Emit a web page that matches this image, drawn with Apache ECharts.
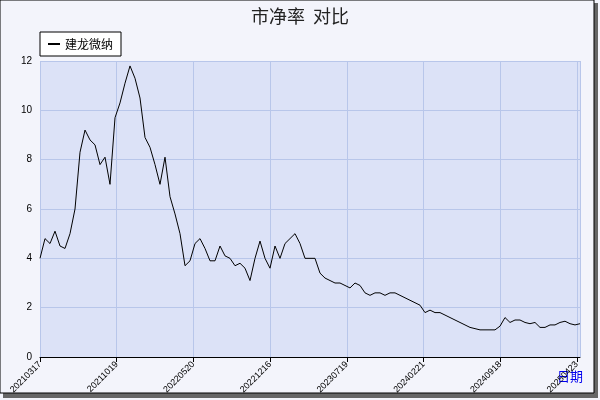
<!DOCTYPE html><html><head><meta charset="utf-8">
<script src="https://cdn.jsdelivr.net/npm/echarts@6/dist/echarts.min.js"></script>
<style>body{margin:0;background:#fff}#c{width:600px;height:400px}</style></head><body><div id="c"></div>
<script>
const tickLabels=['20210317','20211019','20220520','20221216','20230719','20240221','20240918','20250423'];
const values=[4.0,4.8,4.6,5.1,4.5,4.4,5.0,6.0,8.3,9.2,8.8,8.6,7.8,8.1,7.0,9.7,10.3,11.1,11.8,11.3,10.5,8.9,8.5,7.8,7.0,8.1,6.5,5.8,5.0,3.7,3.9,4.6,4.8,4.4,3.9,3.9,4.5,4.1,4.0,3.7,3.8,3.6,3.1,4.0,4.7,4.0,3.6,4.5,4.0,4.6,4.8,5.0,4.6,4.0,4.0,4.0,3.4,3.2,3.1,3.0,3.0,2.9,2.8,3.0,2.9,2.6,2.5,2.6,2.6,2.5,2.6,2.6,2.5,2.4,2.3,2.2,2.1,1.8,1.9,1.8,1.8,1.7,1.6,1.5,1.4,1.3,1.2,1.15,1.1,1.1,1.1,1.1,1.25,1.6,1.4,1.5,1.5,1.4,1.35,1.4,1.2,1.2,1.3,1.3,1.4,1.45,1.35,1.3,1.35];
const step=15.34;
const ch=echarts.init(document.getElementById('c'));
ch.setOption({
 backgroundColor:'#f3f4fb',animation:false,
 graphic:[{type:'rect',shape:{x:3,y:3,width:595,height:395},style:{fill:'#666'},z:-10},
          {type:'rect',shape:{x:0,y:0,width:594,height:393},style:{fill:'#f3f4fb',stroke:'#000',lineWidth:1},z:-9},
          {type:'text',left:557,top:370,style:{text:'日期',fill:'#0000ee',font:'13px "Noto Sans CJK SC"'}}],
 title:{text:'市净率  对比',left:'center',top:2,textStyle:{fontSize:18,fontWeight:'normal',color:'#222',fontFamily:'Noto Sans CJK SC'}},
 legend:{left:40,top:32,itemWidth:12,itemHeight:2,backgroundColor:'#fff',borderColor:'#000',borderWidth:1,borderRadius:0,padding:[6,8],
   textStyle:{fontSize:12,color:'#000',fontFamily:'Noto Sans CJK SC'},data:[{name:'建龙微纳',icon:'rect'}]},
 grid:{left:40,right:20,top:61,bottom:43,show:true,backgroundColor:'#dce2f7',borderWidth:0},
 xAxis:{type:'value',min:0,max:values.length-1,interval:step,
   axisLine:{lineStyle:{color:'#000'}},axisTick:{lineStyle:{color:'#000'}},
   splitLine:{show:true,lineStyle:{color:'#b8c6ea'}},
   axisLabel:{rotate:45,fontSize:9,color:'#000',margin:6,showMaxLabel:false,formatter:v=>tickLabels[Math.round(v/step)]||''}},
 yAxis:{type:'value',min:0,max:12,interval:2,axisLine:{show:false},axisTick:{show:false},
   splitLine:{lineStyle:{color:'#b8c6ea'}},axisLabel:{fontSize:10,color:'#000'}},
 series:[{name:'建龙微纳',type:'line',data:values.map((v,i)=>[i,v]),showSymbol:false,lineStyle:{color:'#000',width:1},itemStyle:{color:'#000'}}]
});
</script></body></html>
